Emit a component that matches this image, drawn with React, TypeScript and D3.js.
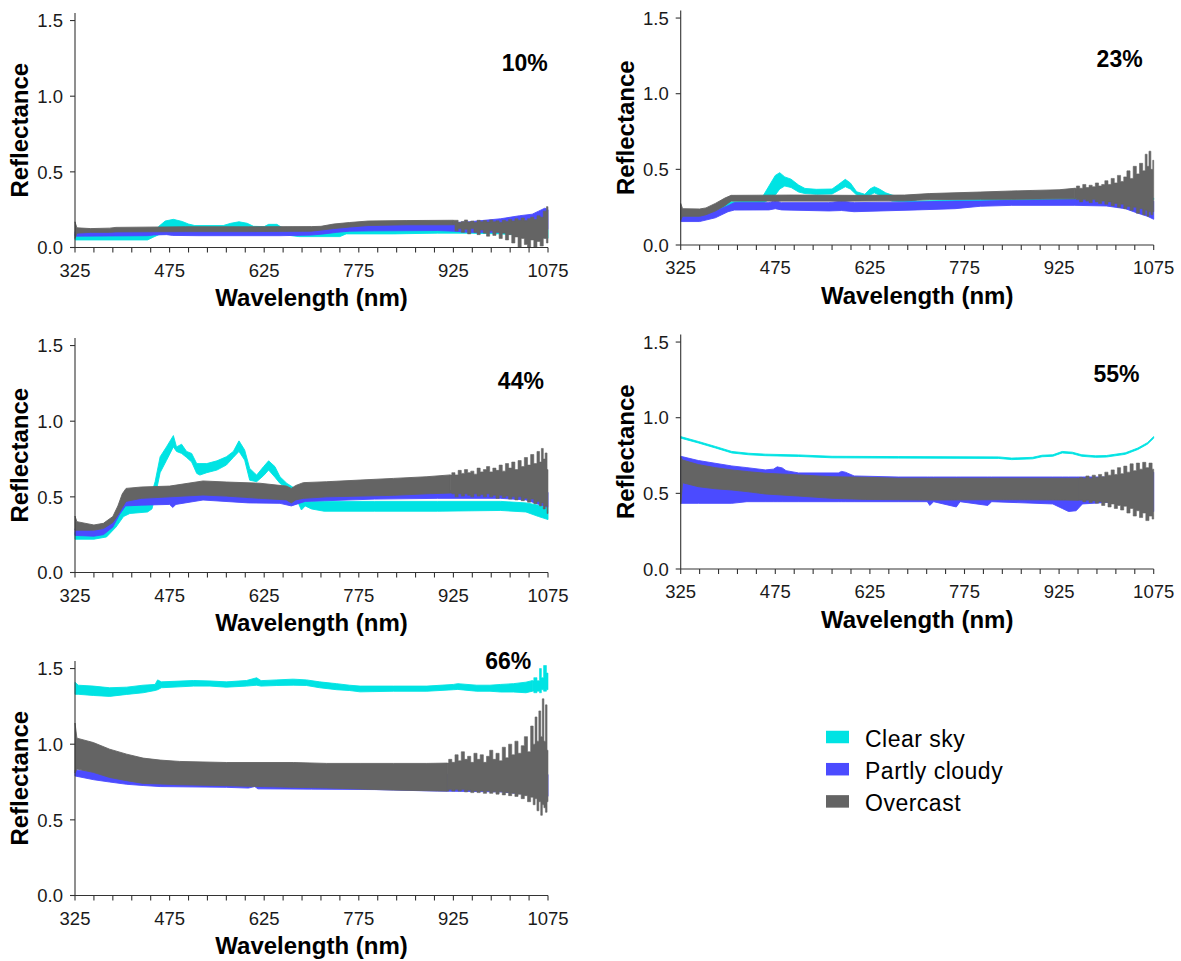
import React from 'react';
import * as d3 from 'd3';

// Each row: [wavelength (nm), lower reflectance, upper reflectance]
type Row = [number, number, number];

const SERIES = ['Clear sky', 'Partly cloudy', 'Overcast'];
const COLORS = ['#00E3E3', '#4B4BFF', '#646464'];

const PANEL_LABELS = ['10%', '23%', '44%', '55%', '66%'];
const LABEL_WL = [1038, 1021, 1032, 1016, 1012];
const LABEL_REFL = [1.167, 1.178, 1.213, 1.238, 1.495];

const X_TICKS = d3.range(325, 1076, 30);
const X_LABELS = [325, 475, 625, 775, 925, 1075];
const Y_TICKS = [0, 0.5, 1.0, 1.5];

// ---- 10% ----
const clear10: Row[] = [
  [325, 0.05, 0.09], [440, 0.05, 0.09], [450, 0.07, 0.1], [458, 0.085, 0.14], [468, 0.09, 0.175],
  [481, 0.09, 0.186], [495, 0.09, 0.172], [505, 0.09, 0.155], [515, 0.09, 0.145], [560, 0.09, 0.145],
  [572, 0.09, 0.16], [585, 0.09, 0.17], [598, 0.09, 0.16], [608, 0.09, 0.14], [625, 0.09, 0.138],
  [632, 0.09, 0.153], [645, 0.09, 0.153], [652, 0.09, 0.135], [665, 0.08, 0.12], [680, 0.072, 0.115],
  [745, 0.072, 0.115], [755, 0.09, 0.13], [830, 0.09, 0.13], [900, 0.095, 0.13], [950, 0.095, 0.13],
  [1000, 0.09, 0.13], [1040, 0.08, 0.13], [1055, 0.06, 0.12], [1065, 0.07, 0.13], [1075, 0.06, 0.12],
];
const partly10: Row[] = [
  [325, 0.075, 0.105], [440, 0.078, 0.105], [450, 0.083, 0.11], [470, 0.085, 0.11], [480, 0.08, 0.11],
  [520, 0.078, 0.11], [650, 0.078, 0.11], [700, 0.082, 0.115], [720, 0.09, 0.125], [740, 0.1, 0.14],
  [760, 0.108, 0.15], [800, 0.11, 0.155], [900, 0.112, 0.16], [925, 0.108, 0.165], [950, 0.1, 0.17],
  [1000, 0.1, 0.19], [1030, 0.095, 0.21], [1050, 0.1, 0.22], [1060, 0.09, 0.24], [1070, 0.1, 0.26],
  [1075, 0.12, 0.25],
];
const overcast10: Row[] = [
  [325, 0.06, 0.17], [328, 0.095, 0.13], [350, 0.1, 0.125], [380, 0.1, 0.128], [390, 0.103, 0.133],
  [500, 0.105, 0.137], [600, 0.105, 0.137], [700, 0.108, 0.138], [715, 0.115, 0.14], [735, 0.125, 0.155],
  [760, 0.135, 0.165], [790, 0.145, 0.175], [850, 0.15, 0.178], [925, 0.15, 0.18],
  [930, 0.11, 0.18], [935, 0.125, 0.165], [940, 0.1, 0.172], [945, 0.12, 0.182], [950, 0.09, 0.168],
  [955, 0.125, 0.175], [960, 0.1, 0.165], [965, 0.085, 0.18], [970, 0.115, 0.17], [975, 0.095, 0.178],
  [980, 0.075, 0.168], [985, 0.11, 0.182], [990, 0.08, 0.17], [995, 0.1, 0.176], [1000, 0.06, 0.165],
  [1005, 0.095, 0.18], [1010, 0.05, 0.172], [1015, 0.085, 0.185], [1020, 0.03, 0.175], [1025, 0.07, 0.19],
  [1030, 0.0, 0.18], [1035, 0.06, 0.195], [1040, 0.02, 0.178], [1045, 0.0, 0.19], [1050, 0.05, 0.2],
  [1055, 0.0, 0.185], [1060, 0.04, 0.21], [1065, 0.01, 0.2], [1070, 0.06, 0.24], [1075, 0.03, 0.27],
];

// ---- 23% ----
const clear23: Row[] = [
  [325, 0.17, 0.22], [355, 0.175, 0.22], [380, 0.2, 0.25], [400, 0.25, 0.285], [450, 0.27, 0.29],
  [455, 0.275, 0.32], [465, 0.3, 0.39], [475, 0.33, 0.46], [482, 0.37, 0.478], [490, 0.39, 0.45],
  [500, 0.38, 0.435], [512, 0.35, 0.396], [522, 0.34, 0.374], [540, 0.335, 0.368], [565, 0.337, 0.37],
  [575, 0.36, 0.4], [586, 0.385, 0.434], [594, 0.37, 0.41], [604, 0.33, 0.352], [617, 0.315, 0.335],
  [625, 0.33, 0.37], [632, 0.345, 0.385], [640, 0.33, 0.37], [650, 0.31, 0.345], [660, 0.29, 0.33],
  [700, 0.28, 0.29], [800, 0.29, 0.3], [1000, 0.3, 0.31], [1075, 0.3, 0.31],
];
const partly23: Row[] = [
  [325, 0.155, 0.19], [355, 0.155, 0.19], [380, 0.18, 0.225], [400, 0.22, 0.26], [410, 0.231, 0.28],
  [465, 0.232, 0.28], [475, 0.24, 0.293], [485, 0.232, 0.28], [560, 0.225, 0.28], [580, 0.228, 0.29],
  [600, 0.22, 0.28], [700, 0.232, 0.285], [760, 0.24, 0.29], [800, 0.256, 0.29], [850, 0.262, 0.295],
  [950, 0.262, 0.3], [1000, 0.258, 0.3], [1030, 0.24, 0.3], [1050, 0.21, 0.3], [1065, 0.19, 0.3],
  [1075, 0.17, 0.29],
];
const overcast23: Row[] = [
  [325, 0.165, 0.275], [328, 0.19, 0.24], [355, 0.19, 0.238], [365, 0.2, 0.245], [380, 0.225, 0.275],
  [395, 0.26, 0.31], [405, 0.29, 0.328], [500, 0.29, 0.33], [600, 0.29, 0.328], [680, 0.292, 0.33],
  [720, 0.3, 0.34], [800, 0.302, 0.35], [850, 0.302, 0.357], [925, 0.305, 0.365], [950, 0.305, 0.375],
  [955, 0.3, 0.39], [960, 0.285, 0.375], [965, 0.3, 0.4], [970, 0.29, 0.38], [975, 0.28, 0.395],
  [980, 0.3, 0.385], [985, 0.285, 0.41], [990, 0.275, 0.39], [995, 0.29, 0.4], [1000, 0.27, 0.425],
  [1005, 0.285, 0.4], [1010, 0.26, 0.44], [1015, 0.275, 0.41], [1020, 0.25, 0.46], [1025, 0.27, 0.42],
  [1030, 0.24, 0.45], [1035, 0.255, 0.49], [1040, 0.23, 0.44], [1045, 0.25, 0.52], [1050, 0.21, 0.47],
  [1055, 0.24, 0.54], [1060, 0.2, 0.49], [1063, 0.23, 0.6], [1066, 0.19, 0.52], [1069, 0.22, 0.62],
  [1072, 0.2, 0.5], [1075, 0.22, 0.56],
];

// ---- 44% ----
const clear44: Row[] = [
  [325, 0.22, 0.265], [355, 0.22, 0.26], [375, 0.235, 0.29], [390, 0.3, 0.35], [402, 0.37, 0.43],
  [412, 0.39, 0.46], [440, 0.4, 0.46], [447, 0.42, 0.53], [452, 0.5, 0.6], [460, 0.66, 0.765],
  [470, 0.74, 0.83], [481, 0.83, 0.905], [486, 0.8, 0.83], [494, 0.787, 0.848], [502, 0.76, 0.8],
  [510, 0.73, 0.787], [518, 0.655, 0.72], [523, 0.644, 0.72], [534, 0.66, 0.72], [550, 0.677, 0.738],
  [565, 0.71, 0.765], [576, 0.76, 0.8], [585, 0.8, 0.87], [594, 0.743, 0.81], [602, 0.61, 0.688],
  [613, 0.6, 0.644], [624, 0.64, 0.7], [632, 0.677, 0.738], [642, 0.63, 0.7], [650, 0.589, 0.633],
  [661, 0.56, 0.589], [672, 0.5, 0.56], [680, 0.45, 0.52], [684, 0.413, 0.47], [690, 0.44, 0.47],
  [700, 0.42, 0.47], [720, 0.405, 0.47], [800, 0.405, 0.47], [900, 0.405, 0.47], [1000, 0.41, 0.47],
  [1040, 0.4, 0.46], [1060, 0.37, 0.445], [1075, 0.35, 0.43],
];
const partly44: Row[] = [
  [325, 0.245, 0.29], [355, 0.24, 0.28], [370, 0.25, 0.29], [385, 0.3, 0.35], [395, 0.38, 0.43],
  [405, 0.44, 0.49], [430, 0.445, 0.5], [475, 0.45, 0.51], [480, 0.43, 0.51], [485, 0.45, 0.51],
  [528, 0.479, 0.52], [600, 0.46, 0.5], [650, 0.457, 0.5], [668, 0.44, 0.49], [690, 0.47, 0.5],
  [800, 0.485, 0.52], [900, 0.49, 0.54], [1000, 0.49, 0.545], [1040, 0.48, 0.55], [1075, 0.43, 0.53],
];
const overcast44: Row[] = [
  [325, 0.28, 0.373], [328, 0.28, 0.336], [355, 0.28, 0.314], [370, 0.29, 0.325], [385, 0.33, 0.37],
  [393, 0.38, 0.44], [400, 0.43, 0.52], [406, 0.47, 0.556], [430, 0.49, 0.565], [475, 0.5, 0.571],
  [528, 0.512, 0.605], [565, 0.505, 0.598], [618, 0.49, 0.59], [660, 0.48, 0.571], [668, 0.46, 0.556],
  [675, 0.48, 0.575], [687, 0.49, 0.594], [724, 0.5, 0.6], [777, 0.505, 0.611], [830, 0.51, 0.622],
  [883, 0.52, 0.633], [920, 0.525, 0.645],
  [925, 0.52, 0.66], [930, 0.5, 0.645], [935, 0.52, 0.675], [940, 0.505, 0.655], [945, 0.52, 0.68],
  [950, 0.51, 0.66], [955, 0.5, 0.67], [960, 0.52, 0.65], [965, 0.505, 0.69], [970, 0.515, 0.665],
  [975, 0.5, 0.68], [980, 0.52, 0.7], [985, 0.5, 0.665], [990, 0.51, 0.69], [995, 0.49, 0.675],
  [1000, 0.51, 0.71], [1005, 0.495, 0.67], [1010, 0.505, 0.72], [1015, 0.485, 0.69], [1020, 0.5, 0.73],
  [1025, 0.48, 0.68], [1030, 0.5, 0.74], [1035, 0.475, 0.7], [1040, 0.49, 0.76], [1045, 0.465, 0.71],
  [1050, 0.485, 0.78], [1055, 0.455, 0.72], [1060, 0.47, 0.8], [1063, 0.44, 0.73], [1066, 0.46, 0.82],
  [1069, 0.42, 0.75], [1072, 0.44, 0.79], [1075, 0.39, 0.68],
];

// ---- 55% ----
const clear55: Row[] = [
  [325, 0.865, 0.875], [353, 0.833, 0.843], [380, 0.8, 0.81], [406, 0.767, 0.777], [433, 0.755, 0.765],
  [459, 0.749, 0.759], [512, 0.744, 0.754], [565, 0.735, 0.745], [670, 0.733, 0.743], [829, 0.731, 0.741],
  [850, 0.723, 0.733], [883, 0.728, 0.738], [898, 0.742, 0.752], [915, 0.745, 0.755], [930, 0.767, 0.777],
  [946, 0.762, 0.772], [961, 0.745, 0.755], [983, 0.738, 0.748], [1000, 0.74, 0.75], [1030, 0.758, 0.768],
  [1050, 0.79, 0.8], [1065, 0.825, 0.835], [1075, 0.865, 0.875],
];
const partly55: Row[] = [
  [325, 0.434, 0.745], [353, 0.434, 0.717], [406, 0.434, 0.681], [430, 0.445, 0.67], [459, 0.445, 0.655],
  [472, 0.445, 0.66], [478, 0.445, 0.675], [486, 0.445, 0.668], [492, 0.445, 0.65], [512, 0.445, 0.635],
  [575, 0.445, 0.635], [580, 0.445, 0.645], [586, 0.445, 0.64], [600, 0.445, 0.615], [670, 0.445, 0.608],
  [716, 0.445, 0.608], [720, 0.42, 0.608], [726, 0.445, 0.608], [762, 0.41, 0.608], [768, 0.445, 0.608],
  [812, 0.42, 0.608], [818, 0.445, 0.608], [915, 0.43, 0.608], [930, 0.4, 0.608], [940, 0.38, 0.608],
  [952, 0.385, 0.608], [962, 0.43, 0.608], [1000, 0.44, 0.608], [1040, 0.42, 0.62], [1075, 0.38, 0.64],
];
const overcast55: Row[] = [
  [325, 0.43, 0.74], [328, 0.57, 0.72], [353, 0.544, 0.69], [380, 0.53, 0.67], [406, 0.522, 0.655],
  [433, 0.51, 0.643], [459, 0.496, 0.633], [512, 0.482, 0.622], [565, 0.467, 0.61], [618, 0.46, 0.606],
  [670, 0.458, 0.6], [724, 0.456, 0.6], [830, 0.458, 0.6], [935, 0.456, 0.6], [955, 0.455, 0.6],
  [960, 0.455, 0.605], [965, 0.445, 0.6], [970, 0.455, 0.615], [975, 0.44, 0.6], [980, 0.45, 0.62],
  [985, 0.435, 0.605], [990, 0.445, 0.625], [995, 0.42, 0.61], [1000, 0.44, 0.64], [1005, 0.41, 0.62],
  [1010, 0.43, 0.655], [1015, 0.4, 0.625], [1020, 0.42, 0.67], [1025, 0.39, 0.63], [1030, 0.415, 0.68],
  [1035, 0.37, 0.64], [1040, 0.4, 0.695], [1045, 0.35, 0.65], [1050, 0.385, 0.7], [1055, 0.34, 0.66],
  [1060, 0.37, 0.705], [1065, 0.32, 0.67], [1070, 0.35, 0.7], [1075, 0.33, 0.66],
];

// ---- 66% ----
const clear66: Row[] = [
  [325, 1.33, 1.41], [330, 1.33, 1.39], [354, 1.322, 1.384], [380, 1.316, 1.373], [407, 1.329, 1.377],
  [433, 1.34, 1.39], [452, 1.355, 1.395], [456, 1.36, 1.425], [462, 1.373, 1.412], [513, 1.384, 1.421],
  [539, 1.384, 1.418], [565, 1.377, 1.412], [597, 1.384, 1.421], [613, 1.39, 1.439], [620, 1.384, 1.42],
  [645, 1.388, 1.425], [671, 1.39, 1.43], [692, 1.388, 1.425], [713, 1.373, 1.412], [740, 1.36, 1.4],
  [760, 1.355, 1.39], [777, 1.346, 1.384], [830, 1.35, 1.384], [883, 1.35, 1.384], [925, 1.36, 1.395],
  [932, 1.362, 1.4], [962, 1.35, 1.39], [983, 1.35, 1.39], [1000, 1.345, 1.395], [1020, 1.345, 1.4],
  [1040, 1.34, 1.41], [1050, 1.35, 1.42], [1055, 1.34, 1.44], [1060, 1.35, 1.42], [1063, 1.34, 1.5],
  [1066, 1.36, 1.44], [1070, 1.35, 1.52], [1075, 1.36, 1.47],
];
const partly66: Row[] = [
  [325, 0.79, 0.83], [355, 0.765, 0.82], [380, 0.75, 0.8], [407, 0.735, 0.8], [433, 0.727, 0.8],
  [460, 0.72, 0.8], [565, 0.715, 0.8], [600, 0.71, 0.8], [610, 0.72, 0.8], [615, 0.705, 0.8],
  [700, 0.703, 0.8], [800, 0.7, 0.8], [900, 0.69, 0.8], [1000, 0.685, 0.8], [1050, 0.665, 0.8],
  [1075, 0.655, 0.8],
];
const overcast66: Row[] = [
  [325, 0.81, 1.14], [328, 0.836, 1.04], [354, 0.814, 1.011], [380, 0.78, 0.967], [407, 0.759, 0.934],
  [433, 0.741, 0.908], [460, 0.737, 0.895], [491, 0.732, 0.886], [565, 0.726, 0.879], [671, 0.715, 0.879],
  [724, 0.711, 0.873], [777, 0.704, 0.873], [830, 0.697, 0.873], [883, 0.693, 0.873], [915, 0.69, 0.875],
  [920, 0.7, 0.9], [925, 0.69, 0.88], [930, 0.7, 0.93], [935, 0.69, 0.89], [940, 0.7, 0.95],
  [945, 0.685, 0.9], [950, 0.695, 0.92], [955, 0.68, 0.88], [960, 0.69, 0.94], [965, 0.68, 0.9],
  [970, 0.69, 0.93], [975, 0.675, 0.88], [980, 0.69, 0.92], [985, 0.675, 0.96], [990, 0.685, 0.9],
  [995, 0.67, 0.94], [1000, 0.685, 0.89], [1005, 0.665, 0.98], [1010, 0.68, 0.91], [1015, 0.66, 1.0],
  [1020, 0.675, 0.93], [1025, 0.655, 1.02], [1030, 0.67, 0.94], [1035, 0.64, 0.99], [1040, 0.66, 1.05],
  [1045, 0.62, 0.95], [1050, 0.65, 1.12], [1053, 0.6, 1.0], [1056, 0.64, 1.18], [1059, 0.56, 1.02],
  [1062, 0.62, 1.22], [1065, 0.53, 1.05], [1067, 0.6, 1.3], [1070, 0.58, 1.02], [1072, 0.55, 1.26],
  [1075, 0.62, 0.96],
];

const PANEL_DATA: Row[][][] = [
  [clear10, partly10, overcast10],
  [clear23, partly23, overcast23],
  [clear44, partly44, overcast44],
  [clear55, partly55, overcast55],
  [clear66, partly66, overcast66],
];

// Plot frame of each facet: left edge of x axis and pixel row of reflectance 0
const FRAMES = [
  { left: 75, bottom: 247.5 },
  { left: 680.7, bottom: 245 },
  { left: 75, bottom: 572.5 },
  { left: 680.7, bottom: 569 },
  { left: 75, bottom: 895.5 },
];
const PLOT_W = 473;
const Y_MAX = 1.55;
const PX_PER_UNIT = 151.3;
const FONT = '"Liberation Sans", Arial, Helvetica, sans-serif';
const INK = '#1a1a1a';

// Densely sampled noisy ends (rows <= 5 nm apart up to the last row) are drawn
// as steps so the spikes keep vertical edges; the smooth body stays linear.
function splitNoisyTail(rows: Row[]): [Row[], Row[]] {
  let k = rows.length - 1;
  while (k > 0 && rows[k][0] - rows[k - 1][0] <= 5) k--;
  if (rows.length - k < 4) return [rows, []];
  return [rows.slice(0, k + 1), rows.slice(k)];
}

function Panel({ idx }: { idx: number }) {
  const { left, bottom } = FRAMES[idx];
  const top = bottom - Y_MAX * PX_PER_UNIT;
  const x = d3.scaleLinear().domain([325, 1075]).range([left, left + PLOT_W]);
  const y = d3.scaleLinear().domain([0, Y_MAX]).range([bottom, top]);
  const bodyArea = d3
    .area<Row>()
    .x((d) => x(d[0]))
    .y0((d) => y(d[1]))
    .y1((d) => y(d[2]))
    .curve(d3.curveLinear);
  const tailArea = d3
    .area<Row>()
    .x((d) => x(d[0]))
    .y0((d) => y(d[1]))
    .y1((d) => y(d[2]))
    .curve(d3.curveStep);
  const fmt = d3.format('.1f');

  return (
    <g>
      {PANEL_DATA[idx].map((rows, s) => {
        const [body, tail] = splitNoisyTail(rows);
        return (
          <g key={s} fill={COLORS[s]} stroke={COLORS[s]} strokeWidth={0.9} strokeLinejoin="round">
            <path d={bodyArea(body) ?? ''} />
            {tail.length > 0 && <path d={tailArea(tail) ?? ''} strokeWidth={0.6} />}
          </g>
        );
      })}
      {/* axes */}
      <line x1={x(325)} x2={x(1075)} y1={bottom} y2={bottom} stroke="#333" strokeWidth={1.1} />
      <line x1={left} x2={left} y1={y(0)} y2={y(Y_MAX)} stroke="#333" strokeWidth={1.1} />
      {X_TICKS.map((t) => (
        <line key={t} x1={x(t)} x2={x(t)} y1={bottom} y2={bottom + 5} stroke="#333" strokeWidth={1.1} />
      ))}
      {X_LABELS.map((t) => (
        <text
          key={t}
          x={x(t)}
          y={bottom + 29}
          textAnchor="middle"
          fontFamily={FONT}
          fontSize={18.5}
          fill={INK}
        >
          {t}
        </text>
      ))}
      {Y_TICKS.map((t) => (
        <g key={t}>
          <line x1={left - 5} x2={left} y1={y(t)} y2={y(t)} stroke="#333" strokeWidth={1.1} />
          <text
            x={left - 12}
            y={y(t)}
            dy="0.36em"
            textAnchor="end"
            fontFamily={FONT}
            fontSize={18.5}
            fill={INK}
          >
            {fmt(t)}
          </text>
        </g>
      ))}
      <text
        x={left + PLOT_W / 2}
        y={bottom + 58.5}
        textAnchor="middle"
        fontFamily={FONT}
        fontWeight="bold"
        fontSize={24}
        fill="#000"
      >
        Wavelength (nm)
      </text>
      <text
        transform={`translate(${left - 47},${(bottom + top) / 2}) rotate(-90)`}
        textAnchor="middle"
        fontFamily={FONT}
        fontWeight="bold"
        fontSize={24}
        fill="#000"
      >
        Reflectance
      </text>
      <text
        x={x(LABEL_WL[idx])}
        y={y(LABEL_REFL[idx])}
        textAnchor="middle"
        fontFamily={FONT}
        fontWeight="bold"
        fontSize={23}
        fill="#000"
      >
        {PANEL_LABELS[idx]}
      </text>
    </g>
  );
}

function Legend() {
  return (
    <g>
      {SERIES.map((name, i) => {
        const cy = 737 + i * 32.2;
        return (
          <g key={name}>
            <rect x={826} y={cy - 6.25} width={23} height={12.5} fill={COLORS[i]} />
            <text
              x={865}
              y={cy + 9.5}
              fontFamily={FONT}
              fontSize={23}
              letterSpacing={0.5}
              fill="#000"
            >
              {name}
            </text>
          </g>
        );
      })}
    </g>
  );
}

export default function App() {
  return (
    <svg
      width={1181}
      height={961}
      viewBox="0 0 1181 961"
      style={{ position: 'absolute', left: 0, top: 0, background: '#fff', display: 'block' }}
    >
      <rect width={1181} height={961} fill="#fff" />
      {FRAMES.map((_, i) => (
        <Panel key={i} idx={i} />
      ))}
      <Legend />
    </svg>
  );
}
